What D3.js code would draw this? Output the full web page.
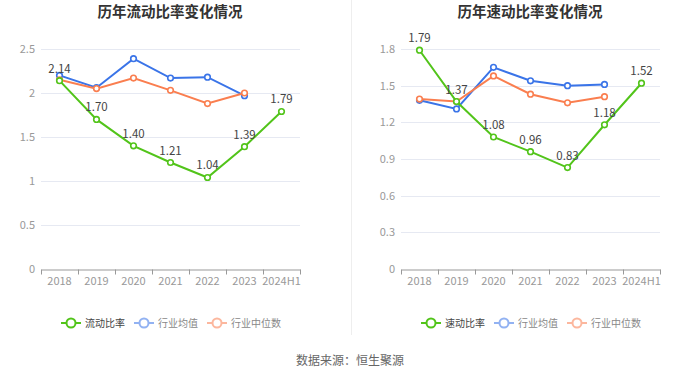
<!DOCTYPE html>
<html><head><meta charset="utf-8">
<script src="https://cdn.jsdelivr.net/npm/d3@7/dist/d3.min.js"></script>
<style>body{margin:0;background:#fff;}svg{display:block;font-family:"Noto Sans CJK SC","Noto Sans",sans-serif;}</style>
</head><body><svg id="c" width="700" height="378"></svg>
<script>
const categories = ["2018","2019","2020","2021","2022","2023","2024H1"];
const currentRatio = [2.14,1.70,1.40,1.21,1.04,1.39,1.79];
const currentAvg = [2.20,2.06,2.39,2.17,2.18,1.97];
const currentMedian = [2.15,2.05,2.17,2.03,1.88,2.00];
const quickRatio = [1.79,1.37,1.08,0.96,0.83,1.18,1.52];
const quickAvg = [1.38,1.31,1.65,1.54,1.50,1.51];
const quickMedian = [1.39,1.37,1.58,1.43,1.36,1.41];
const leftTicks = [0,0.5,1,1.5,2,2.5];
const rightTicks = [0,0.3,0.6,0.9,1.2,1.5,1.8];
const colors = {main:"#52c41a", avg:"#3a74e8", med:"#fa7e4f"};

const svg = d3.select("#c");
svg.append("line").attr("x1",351.5).attr("x2",351.5).attr("y1",0).attr("y2",335).attr("stroke","#eeeeee").attr("stroke-width",1);
svg.append("text").attr("x",350).attr("y",365).attr("text-anchor","middle").attr("font-size",12).attr("fill","#666").text("数据来源：恒生聚源");

function chart(opts){
  const g = svg.append("g");
  const x = d3.scaleBand().domain(categories).range([opts.x0,opts.x1]);
  const y = d3.scaleLinear().domain([0,opts.max]).range([269,49]);
  g.append("text").attr("x",opts.cx).attr("y",17).attr("text-anchor","middle").attr("font-size",14.5).attr("font-weight","bold").attr("fill","#333").text(opts.title);
  g.selectAll(".grid").data(opts.ticks.slice(1)).join("line")
    .attr("x1",opts.x0).attr("x2",opts.x1).attr("y1",d=>Math.round(y(d))+0.5).attr("y2",d=>Math.round(y(d))+0.5)
    .attr("stroke","#e6e9f2").attr("stroke-width",1);
  g.selectAll(".yl").data(opts.ticks).join("text")
    .attr("x",opts.x0-6).attr("y",d=>y(d)+4).attr("text-anchor","end").attr("font-size",11).attr("fill","#999")
    .text(d=>d3.format("")(d));
  const ax = g.append("g").attr("transform","translate(0,269.5)")
    .call(d3.axisBottom(x).tickSizeOuter(0).tickSizeInner(0).tickPadding(8));
  ax.select(".domain").attr("stroke","#999");
  ax.selectAll("text").attr("font-size",11).attr("fill","#999").attr("font-family",'"Noto Sans CJK SC","Noto Sans",sans-serif');
  const bounds = categories.map(c=>x(c)).concat([opts.x1]);
  g.selectAll(".tk").data(bounds).join("line").attr("x1",d=>Math.round(d)+0.5).attr("x2",d=>Math.round(d)+0.5)
    .attr("y1",269.5).attr("y2",274.5).attr("stroke","#999");
  const cx = c=>x(c)+x.bandwidth()/2;
  const series = [
    {vals:opts.avg,color:colors.avg},
    {vals:opts.med,color:colors.med},
    {vals:opts.main,color:colors.main}
  ];
  const line = d3.line().x((d,i)=>cx(categories[i])).y(d=>y(d));
  series.forEach(s=>{
    g.append("path").datum(s.vals).attr("d",line).attr("fill","none").attr("stroke",s.color).attr("stroke-width",2);
    g.selectAll(null).data(s.vals).join("circle").attr("cx",(d,i)=>cx(categories[i])).attr("cy",d=>y(d)).attr("r",2.8)
      .attr("fill","#fff").attr("stroke",s.color).attr("stroke-width",1.6);
  });
  g.selectAll(".lab").data(opts.main).join("text")
    .attr("x",(d,i)=>cx(categories[i])).attr("y",d=>y(d)-8).attr("text-anchor","middle").attr("font-size",11.5).attr("fill","#444")
    .text(d=>d.toFixed(2));
  const leg = [
    {name:opts.mainName,color:colors.main,op:1,tc:"#444"},
    {name:"行业均值",color:colors.avg,op:0.55,tc:"#888"},
    {name:"行业中位数",color:colors.med,op:0.55,tc:"#888"}
  ];
  leg.forEach((l,i)=>{
    const lx = opts.legX + i*73, ly = 323;
    const lg = g.append("g").attr("opacity",l.op);
    lg.append("line").attr("x1",lx-10).attr("x2",lx+10).attr("y1",ly).attr("y2",ly).attr("stroke",l.color).attr("stroke-width",2);
    lg.append("circle").attr("cx",lx).attr("cy",ly).attr("r",4.5).attr("fill","#fff").attr("stroke",l.color).attr("stroke-width",2);
    g.append("text").attr("x",lx+14).attr("y",ly+4).attr("font-size",10).attr("fill",l.tc).text(l.name);
  });
}
chart({x0:41,x1:300,max:2.5,ticks:leftTicks,cx:170,title:"历年流动比率变化情况",main:currentRatio,avg:currentAvg,med:currentMedian,mainName:"流动比率",legX:71});
chart({x0:401,x1:660,max:1.8,ticks:rightTicks,cx:530,title:"历年速动比率变化情况",main:quickRatio,avg:quickAvg,med:quickMedian,mainName:"速动比率",legX:431});
</script></body></html>
